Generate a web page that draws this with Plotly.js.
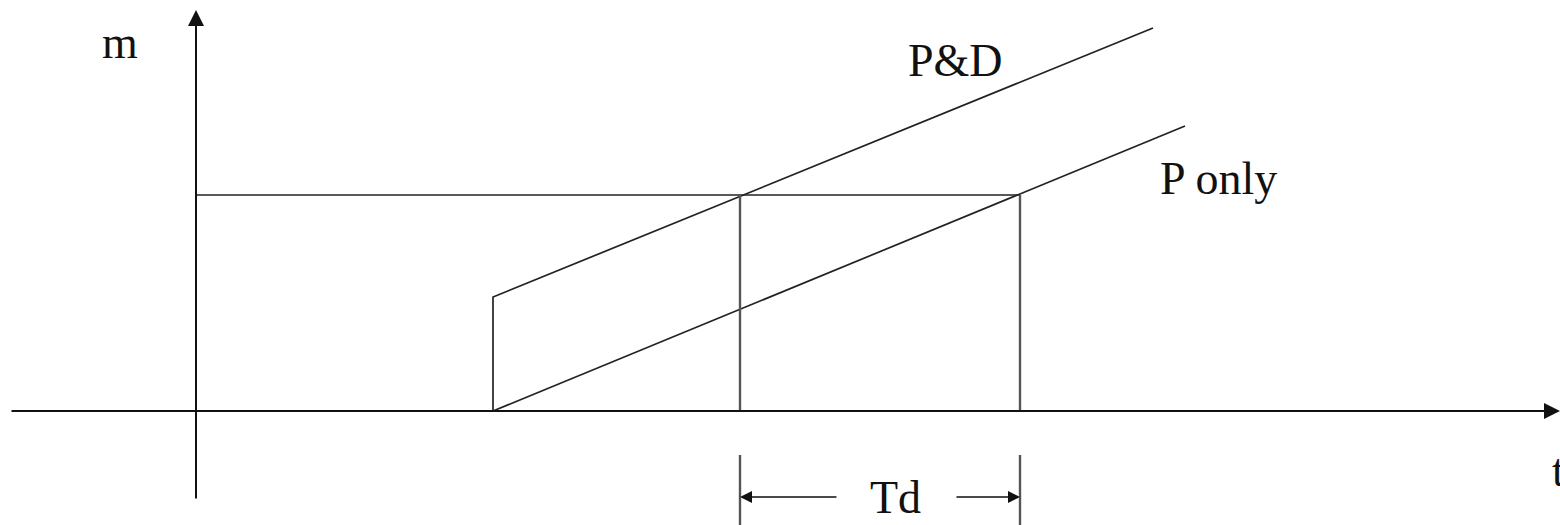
<!DOCTYPE html>
<html>
<head>
<meta charset="utf-8">
<script src="https://cdn.plot.ly/plotly-3.0.1.min.js"></script>
<style>
  html, body { margin: 0; padding: 0; background: #fff; }
  #graph { width: 1560px; height: 525px; }
</style>
</head>
<body>
<div id="graph"></div>
<script>
// valeurs (origine = intersection des axes)
var tStep = 297;          // instant de l'echelon
var tPD = 544;            // P&D atteint le niveau m
var tP = 824;             // P seul atteint le niveau m
var mLevel = 216;         // niveau m de consigne

var pOnlyX = [tStep, 989];
var pOnlyY = [0, 285];
var pdX = [tStep, tStep, 957];
var pdY = [0, 114, 383];
var levelX = [0, tP];
var levelY = [mLevel, mLevel];
var tdMarkY = [-44, -114];
var tdArrowY = -86;

var labels = ['m', 'P&D', 'P only', 'Td', 't'];
var labelX = [-76, 759, 1022, 699, 1362];
var labelY = [369, 351, 233, -86, -59];

var lineCol = '#222';
var vertCol = '#555';

var data = [
  { x: pOnlyX, y: pOnlyY, name: 'P only' },
  { x: pdX, y: pdY, name: 'P&D' },
  { x: levelX, y: levelY, name: 'm' },
  { x: [tPD, tPD], y: [0, mLevel], vert: true },
  { x: [tP, tP], y: [0, mLevel], vert: true },
  { x: [tPD, tPD], y: tdMarkY, vert: true },
  { x: [tP, tP], y: tdMarkY, vert: true }
].map(function(t) {
  return {
    x: t.x, y: t.y, type: 'scatter', mode: 'lines', hoverinfo: 'skip',
    cliponaxis: false,
    line: { color: t.vert ? vertCol : lineCol, width: t.vert ? 2.4 : 1.7 }
  };
});

// fleches : axes et Td
function arrow(x, y, ax, ay) {
  return {
    x: x, y: y, ax: ax, ay: ay, xref: 'x', yref: 'y', axref: 'x', ayref: 'y',
    text: '', showarrow: true, arrowhead: 2, arrowsize: 1.6, arrowwidth: 2,
    arrowcolor: '#111'
  };
}

var annotations = [
  arrow(0, 401, 0, -89),
  arrow(1364, 0, -186, 0),
  arrow(tPD, tdArrowY, tPD + 98, tdArrowY),
  arrow(tP, tdArrowY, tP - 65, tdArrowY)
];
annotations[2].arrowwidth = 1.5;
annotations[3].arrowwidth = 1.5;

for (var i = 0; i < labels.length; i++) {
  annotations.push({
    x: labelX[i], y: labelY[i], xref: 'x', yref: 'y', text: labels[i],
    showarrow: false, xanchor: 'center', yanchor: 'middle',
    font: { family: 'Liberation Serif, Times New Roman, serif', size: 46, color: '#111' }
  });
}

var hidden = {
  showgrid: false, zeroline: false, showticklabels: false, showline: false,
  ticks: '', fixedrange: true
};

var layout = {
  width: 1560, height: 525,
  margin: { l: 0, r: 0, t: 0, b: 0 },
  paper_bgcolor: '#fff', plot_bgcolor: '#fff',
  showlegend: false,
  xaxis: Object.assign({ range: [-196, 1364] }, hidden),
  yaxis: Object.assign({ range: [-114, 411] }, hidden),
  annotations: annotations
};

Plotly.newPlot('graph', data, layout, { displayModeBar: false, staticPlot: true });
</script>
</body>
</html>
